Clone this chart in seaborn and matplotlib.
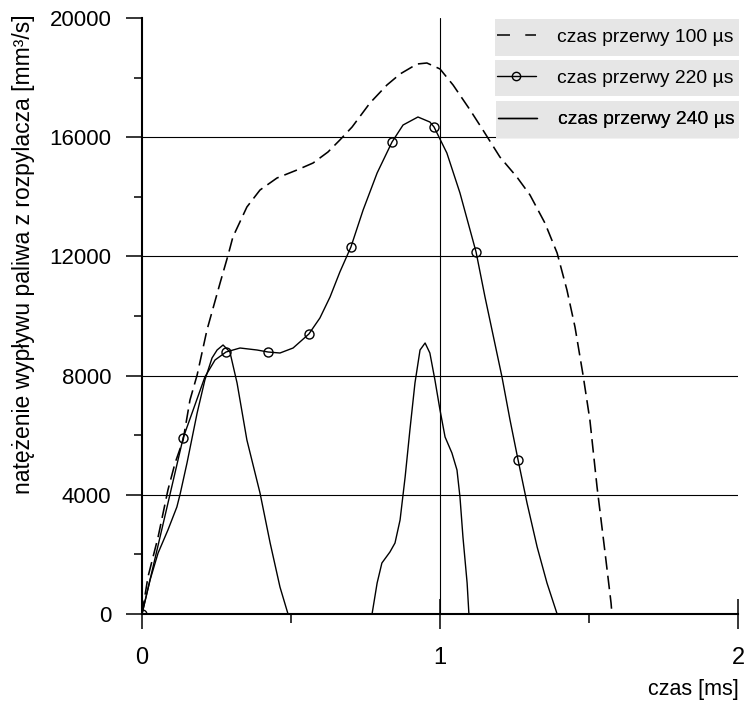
import numpy as np
import pandas as pd
import matplotlib
matplotlib.use("Agg")
import matplotlib.pyplot as plt
from matplotlib.lines import Line2D
from matplotlib.patches import Rectangle
import seaborn as sns

# ---- data ----
x_100 = [0, 0.020, 0.054, 0.087, 0.111, 0.138, 0.161, 0.185, 0.218, 0.262, 0.289,
         0.305, 0.352, 0.396, 0.453, 0.520, 0.574, 0.624, 0.664, 0.705, 0.765, 0.822,
         0.866, 0.923, 0.956, 1.000, 1.044, 1.101, 1.144, 1.201, 1.258, 1.302, 1.352, 1.393,
         1.426, 1.453, 1.480, 1.503, 1.527, 1.554, 1.574, 1.577]
y_100 = [0, 1242, 2584, 4161, 5067, 5839, 7181, 8020, 9530, 11107, 12047,
         12651, 13658, 14228, 14631, 14899, 15134, 15503, 15906, 16342, 17148, 17752,
         18121, 18456, 18490, 18290, 17750, 16913, 16242, 15336, 14664, 14060, 13121, 12114,
         10872, 9631, 8020, 6510, 4262, 2047, 369, 0]

x_220 = [0, 0.070, 0.138, 0.168, 0.211, 0.245, 0.282, 0.329, 0.386, 0.423, 0.463, 0.507,
         0.560, 0.597, 0.631, 0.664, 0.701, 0.742, 0.789, 0.839, 0.876, 0.926, 0.966, 0.980,
         1.023, 1.067, 1.121, 1.151, 1.208, 1.235, 1.262, 1.292, 1.326, 1.359, 1.393]
y_220 = [0, 2987, 5906, 6745, 7953, 8523, 8792, 8926, 8859, 8792, 8758, 8926,
         9396, 9933, 10638, 11477, 12315, 13557, 14799, 15839, 16409, 16678, 16510, 16342,
         15470, 14128, 12148, 10638, 7953, 6510, 5168, 3725, 2248, 1040, 0]
marks_220 = [0, 2, 6, 9, 12, 16, 19, 23, 26, 30]

x_240a = [0, 0.027, 0.054, 0.087, 0.117, 0.128, 0.151, 0.185, 0.211, 0.235, 0.252, 0.272,
          0.295, 0.319, 0.352, 0.396, 0.430, 0.463, 0.490]
y_240a = [0, 1141, 2047, 2819, 3591, 4027, 5067, 6745, 7852, 8591, 8859, 9027,
          8792, 7752, 5839, 4060, 2383, 906, 0]
x_240b = [0.772, 0.789, 0.805, 0.832, 0.849, 0.866, 0.883, 0.899, 0.916, 0.933, 0.950,
          0.966, 0.983, 1.000, 1.017, 1.040, 1.057, 1.067, 1.077, 1.091, 1.097]
y_240b = [0, 1040, 1711, 2081, 2383, 3154, 4597, 6174, 7752, 8859, 9094,
          8758, 7852, 6846, 5940, 5403, 4832, 3926, 2584, 1040, 0]

labels = ["czas przerwy 100 µs", "czas przerwy 220 µs", "czas przerwy 240 µs"]
x_ticks = [0, 1, 2]
y_ticks = [0, 4000, 8000, 12000, 16000, 20000]
x_label = "czas [ms]"
y_label = "natężenie wypływu paliwa z rozpylacza [mm³/s]"

# ---- style ----
sns.set_theme(style="white")
plt.rcParams["font.family"] = ["Liberation Sans", "DejaVu Sans"]
plt.rcParams["text.color"] = "black"
plt.rcParams["xtick.color"] = "black"
plt.rcParams["ytick.color"] = "black"
plt.rcParams["xtick.labelcolor"] = "black"
plt.rcParams["ytick.labelcolor"] = "black"
FS_LEG = 13.9

fig = plt.figure(figsize=(7.49, 7.02), dpi=100)
ax = fig.add_axes([142 / 749, 88 / 702, 596 / 749, 596 / 702])

df100 = pd.DataFrame({"x": x_100, "y": y_100})
df220 = pd.DataFrame({"x": x_220, "y": y_220})
df240 = pd.DataFrame({"x": x_240a + x_240b, "y": y_240a + y_240b,
                      "seg": [0] * len(x_240a) + [1] * len(x_240b)})

sns.lineplot(data=df100, x="x", y="y", ax=ax, color="black", lw=1.15, sort=False,
             estimator=None, zorder=3)
ax.lines[-1].set_dashes([8.5, 3.8])
sns.lineplot(data=df220, x="x", y="y", ax=ax, color="black", lw=1.0, sort=False,
             estimator=None, marker="o", markevery=marks_220, markersize=6.5,
             markerfacecolor="none", markeredgecolor="black", markeredgewidth=1.0, zorder=3)
sns.lineplot(data=df240, x="x", y="y", units="seg", ax=ax, color="black", lw=1.0,
             sort=False, estimator=None, zorder=3)
for ln in ax.lines:
    ln.set_solid_joinstyle("round")
    ln.set_dash_joinstyle("round")

ax.set_xlim(0, 2)
ax.set_ylim(0, 20000)
ax.set_xticks(x_ticks)
ax.set_xticklabels([str(v) for v in x_ticks], fontsize=17)
ax.set_xticks([0.5, 1.5], minor=True)
ax.set_yticks(y_ticks)
ax.set_yticklabels([str(v) for v in y_ticks], fontsize=16)
ax.set_yticks([2000, 6000, 10000, 14000, 18000], minor=True)
ax.set_xlabel("")
ax.set_ylabel("")

for s in ["top", "right"]:
    ax.spines[s].set_visible(False)
for s in ["left", "bottom"]:
    ax.spines[s].set_linewidth(1.5)
    ax.spines[s].set_color("black")

ax.tick_params(axis="x", which="major", direction="inout", length=21.6, width=1.1,
               color="black", labelcolor="black", pad=13, bottom=True)
ax.tick_params(axis="x", which="minor", direction="out", length=6.5, width=1.1,
               color="black", bottom=True)
ax.tick_params(axis="y", which="major", direction="out", length=11.5, width=1.1,
               color="black", labelcolor="black", pad=10.5, left=True)
ax.tick_params(axis="y", which="minor", direction="out", length=5.8, width=1.1,
               color="black", left=True)

ax.grid(True, which="major", color="black", lw=0.8, zorder=1)
ygl = ax.yaxis.get_gridlines()
ygl[0].set_visible(False)
ygl[-1].set_visible(False)
xgl = ax.xaxis.get_gridlines()
xgl[0].set_visible(False)
xgl[-1].set_visible(False)
ax.set_axisbelow(True)

fig.text(739 / 749, 1 - 690 / 702, x_label, ha="right", va="center", fontsize=15.5,
         color="black")
fig.text(24 / 749, 1 - 254 / 702, y_label, rotation=90, ha="center", va="center",
         fontsize=16.5, color="black")

# ---- legend: three separate grey boxes ----
def ax_y(py):
    return (614 - py) / 596

def ax_x(px):
    return (px - 142) / 596

boxes = [(495, 19, 56), (495, 60, 96), (496, 101, 138)]
handles = [
    Line2D([], [], color="black", lw=1.1, dashes=[8.5, 10]),
    Line2D([], [], color="black", lw=1.0, marker="o", markersize=6, markerfacecolor="none",
           markeredgecolor="black", markeredgewidth=1.0),
    Line2D([], [], color="black", lw=1.0),
]
for (bx, by0, by1), h, lab in zip(boxes, handles, labels):
    rect = Rectangle((ax_x(bx), ax_y(by1)), ax_x(739) - ax_x(bx), ax_y(by0) - ax_y(by1),
                     transform=ax.transAxes, facecolor="#e6e6e6", edgecolor="none",
                     zorder=5, clip_on=False)
    ax.add_patch(rect)
    leg = ax.legend([h], [lab], loc="center left", frameon=False, fontsize=FS_LEG,
                    labelcolor="black",
                    bbox_to_anchor=(ax_x(bx + 2), ax_y((by0 + by1) / 2)),
                    borderaxespad=0, borderpad=0, handlelength=2.0, handletextpad=1.1)
    leg.set_zorder(6)
    ax.add_artist(leg)

fig.savefig("out.png", dpi=100)
